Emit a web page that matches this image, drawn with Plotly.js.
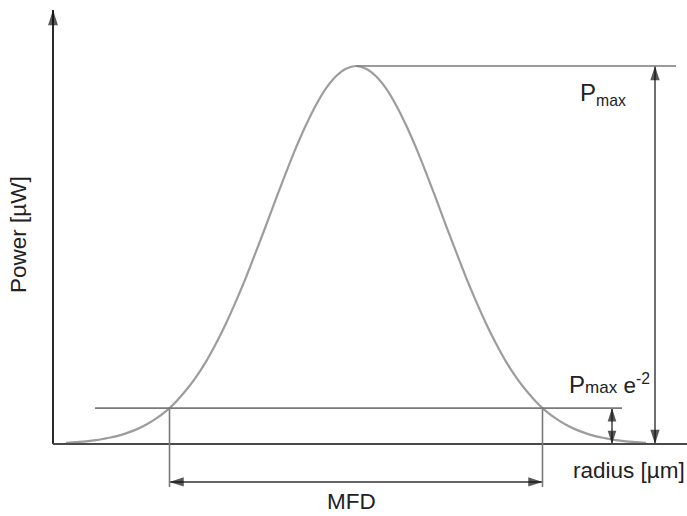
<!DOCTYPE html>
<html>
<head>
<meta charset="utf-8">
<script src="https://cdn.plot.ly/plotly-3.0.1.min.js"></script>
<style>html,body{margin:0;padding:0;background:#fff;}#chart{width:687px;height:516px;}</style>
</head>
<body>
<div id="chart"></div>
<script>
// Gaussian beam profile (radius in arbitrary µm units, power in % of Pmax)
const radius = [-29,-28,-27,-26,-25,-24,-23,-22,-21,-20,-19,-18,-17,-16,-15,-14,-13,-12,-11,-10,-9,-8,-7,-6,-5,-4,-3,-2,-1,0,1,2,3,4,5,6,7,8,9,10,11,12,13,14,15,16,17,18,19,20,21,22,23,24,25,26,27,28,29];
const power = [0.3,0.5,0.7,1.0,1.5,2.0,2.8,3.8,5.1,6.7,8.7,11.2,14.2,17.7,21.8,26.6,31.9,37.8,44.1,50.9,57.8,64.9,71.8,78.4,84.4,89.7,94.1,97.3,99.3,100,99.3,97.3,94.1,89.7,84.4,78.4,71.8,64.9,57.8,50.9,44.1,37.8,31.9,26.6,21.8,17.7,14.2,11.2,8.7,6.7,5.1,3.8,2.8,2.0,1.5,1.0,0.7,0.5,0.3];
const pMax = 100;
const pLow = 9.5;          // level of the lower horizontal line
const mfdHalf = 18.65;     // half of the mode field diameter
const xLabel = 'radius [µm]';
const yLabel = 'Power [µW]';
const mfdLabel = 'MFD';
const pMaxLabel = "<span style='font-size:24px'>P</span><sub>max</sub>";
const pLowLabel = "<span style='font-size:24px'>P</span><span style='font-size:17px'>max</span> e<sup>-2</sup>";

const xMin = -35.6, xMax = 33.1, yMin = -19.05, yMax = 117.46;
const axisX = -30.3, yTop = 114.8;
const arrowX1 = 29.9, arrowX2 = 25.6, mfdY = -10.05, mfdTickBottom = -11.4;

const axisColor = '#4a4a4a';
const lineColor = '#7a7a7a';
const curveColor = '#9c9c9c';
const headColor = '#111';
const font = {family: 'Liberation Sans, Arial, sans-serif', size: 22.5, color: '#222'};

// arrow drawn as a line with slender 'arrow' markers (tip sits on the point)
function arrowTrace(xs, ys, angles, sizes, color, w) {
  return {x: xs, y: ys, type: 'scatter', mode: 'lines+markers', hoverinfo: 'skip', cliponaxis: false,
    line: {color: color, width: w},
    marker: {symbol: 'arrow', angle: angles, size: sizes, color: headColor, line: {width: 0}}};
}
function label(x, y, text, opts) {
  return Object.assign({x: x, y: y, xref: 'x', yref: 'y', text: text, showarrow: false, font: font}, opts || {});
}

const data = [
  {x: radius, y: power, type: 'scatter', mode: 'lines',
   line: {color: curveColor, width: 2.2, shape: 'spline'}, hoverinfo: 'skip'},
  arrowTrace([axisX, axisX], [0, yTop], [0, 0], [0, 16], '#2a2a2a', 2),
  arrowTrace([arrowX1, arrowX1], [0, pMax], [180, 0], [15, 15], '#333', 1.4),
  arrowTrace([arrowX2, arrowX2], [0, pLow], [180, 0], [14, 14], '#333', 1.4),
  arrowTrace([-mfdHalf, mfdHalf], [mfdY, mfdY], [270, 90], [15, 15], '#333', 1.4)
];

const shapes = [
  {type: 'line', xref: 'x', yref: 'y', x0: axisX, x1: xMax, y0: 0, y1: 0, line: {color: axisColor, width: 2}},
  {type: 'line', xref: 'x', yref: 'y', x0: 0, x1: 32, y0: pMax, y1: pMax, line: {color: lineColor, width: 1.6}},
  {type: 'line', xref: 'x', yref: 'y', x0: -26.1, x1: 26.6, y0: pLow, y1: pLow, line: {color: lineColor, width: 1.6}},
  {type: 'line', xref: 'x', yref: 'y', x0: -mfdHalf, x1: -mfdHalf, y0: pLow, y1: mfdTickBottom, line: {color: lineColor, width: 1.6}},
  {type: 'line', xref: 'x', yref: 'y', x0: mfdHalf, x1: mfdHalf, y0: pLow, y1: mfdTickBottom, line: {color: lineColor, width: 1.6}}
];

const annotations = [
  label(22.2, 92.5, pMaxLabel, {xanchor: 'left', yanchor: 'middle'}),
  label(21.1, 15.8, pLowLabel, {xanchor: 'left', yanchor: 'middle'}),
  label(21.5, -6.9, xLabel, {xanchor: 'left', yanchor: 'middle'}),
  label(-0.45, -15.1, mfdLabel, {xanchor: 'center', yanchor: 'middle'}),
  label(-33.7, 55.3, yLabel, {xanchor: 'center', yanchor: 'middle', textangle: -90})
];

const layout = {
  width: 687, height: 516,
  margin: {l: 0, r: 0, t: 0, b: 0},
  paper_bgcolor: '#fff', plot_bgcolor: '#fff',
  showlegend: false,
  xaxis: {range: [xMin, xMax], visible: false, fixedrange: true},
  yaxis: {range: [yMin, yMax], visible: false, fixedrange: true},
  shapes: shapes,
  annotations: annotations
};

Plotly.newPlot('chart', data, layout, {staticPlot: true, displayModeBar: false});
</script>
</body>
</html>
